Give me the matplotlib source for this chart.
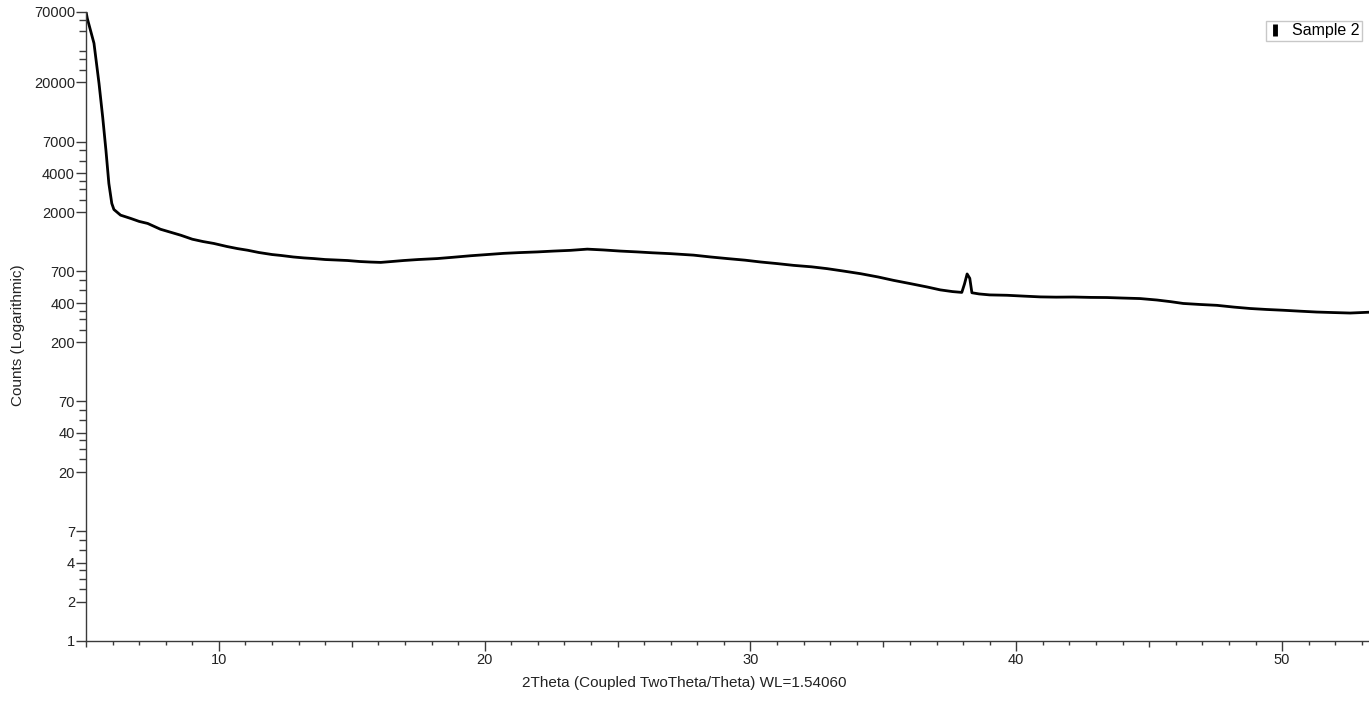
import matplotlib
matplotlib.use("Agg")
import matplotlib.pyplot as plt
from matplotlib.ticker import FixedLocator, NullFormatter
from matplotlib.lines import Line2D

plt.rcParams['font.family'] = ['Liberation Sans', 'DejaVu Sans']

# 2theta (deg) and counts
two_theta = [5.0, 5.05, 5.30, 5.49, 5.63, 5.75, 5.86, 5.97, 6.05, 6.3,
             6.69, 7.0, 7.32, 7.8, 8.2, 8.57, 9.0, 9.4, 9.81, 10.3,
             10.7, 11.08, 11.5, 12.0, 12.33, 12.8, 13.2, 13.57, 14.0, 14.4,
             14.84, 15.3, 15.71, 16.09, 16.5, 16.95, 17.5, 18.22, 18.8, 19.47,
             20.1, 20.71, 21.3, 21.98, 22.6, 23.23, 23.86, 24.47, 25.1, 25.74,
             26.3, 26.99, 27.86, 28.5, 29.12, 29.8, 30.38, 31.0, 31.62, 32.3,
             32.88, 33.5, 34.14, 34.8, 35.38, 36.0, 36.64, 37.14, 37.6, 37.95,
             38.05, 38.15, 38.25, 38.33, 38.6, 39.0, 39.65, 40.3, 40.9, 41.5,
             42.14, 42.8, 43.41, 44.0, 44.66, 45.29, 45.8, 46.28, 46.9, 47.55,
             48.2, 48.8, 49.4, 50.04, 50.7, 51.3, 51.9, 52.56, 53.3]
counts = [70000, 62000, 40000, 19600, 10700, 6000, 3330, 2340, 2100, 1900,
          1790, 1700, 1640, 1480, 1400, 1330, 1240, 1190, 1150, 1090,
          1050, 1020, 980, 945, 930, 905, 890, 880, 865, 858,
          850, 835, 827, 822, 835, 850, 865, 880, 900, 925,
          945, 965, 978, 990, 1005, 1018, 1040, 1025, 1005, 990,
          975, 960, 935, 905, 880, 855, 828, 805, 780, 760,
          736, 705, 673, 635, 598, 565, 532, 505, 490, 483,
          560, 670, 620, 480, 470, 462, 459, 452, 446, 444,
          445, 442, 441, 437, 433, 422, 410, 397, 390, 384,
          372, 363, 357, 352, 346, 341, 338, 335, 340]

y_major = [1, 2, 4, 7, 20, 40, 70, 200, 400, 700, 2000, 4000, 7000, 20000, 70000]
y_minor = [m * 10 ** k for k in range(5) for m in (2.5, 3, 3.5, 5, 6)]
x_major = [5, 10, 15, 20, 25, 30, 35, 40, 45, 50]
x_minor = list(range(5, 54))

fig = plt.figure(figsize=(13.69, 7.10), dpi=100)
ax = fig.add_axes([86 / 1369, 1 - 641 / 710, 1 - 86 / 1369, (641 - 11.7) / 710])

ax.plot(two_theta, counts, color='black', lw=2.0, label='Sample 2')

ax.set_yscale('log')
ax.set_xlim(5, 53.27)
ax.set_ylim(1, 70000)

ax.yaxis.set_major_locator(FixedLocator(y_major))
ax.yaxis.set_minor_locator(FixedLocator(y_minor))
ax.set_yticklabels([str(v) for v in y_major])
ax.yaxis.set_minor_formatter(NullFormatter())

ax.xaxis.set_major_locator(FixedLocator(x_major))
ax.xaxis.set_minor_locator(FixedLocator(x_minor))
ax.set_xticklabels([str(v) if v % 10 == 0 else '' for v in x_major])

gray = '#3a3a3a'
for side in ('top', 'right'):
    ax.spines[side].set_visible(False)
for side in ('left', 'bottom'):
    ax.spines[side].set_color(gray)
    ax.spines[side].set_linewidth(1.0)

ax.tick_params(axis='y', which='major', length=7.5, width=1, color=gray, labelsize=10.5, labelcolor='#222222', pad=0.5)
ax.tick_params(axis='y', which='minor', length=5, width=1, color=gray)
ax.tick_params(axis='x', which='major', length=4.5, width=1, color=gray, labelsize=10.5, labelcolor='#222222', pad=4)
ax.tick_params(axis='x', which='minor', length=3, width=1, color=gray)

# longer ticks at the tens
for v, t in zip(x_major, ax.xaxis.get_major_ticks()):
    t.tick1line.set_markersize(7.5 if v % 10 == 0 else 4.5)

ax.set_ylabel('Counts (Logarithmic)', fontsize=11, color='#222222')
ax.yaxis.set_label_coords((25 - 86) / 1283, 0.486)
ax.set_xlabel('2Theta (Coupled TwoTheta/Theta) WL=1.54060', fontsize=11, color='#222222')
ax.xaxis.set_label_coords((684.5 - 86) / 1283, -0.056)

handle = Line2D([], [], color='black', marker='|', linestyle='none', markersize=9, markeredgewidth=3.5)
leg = ax.legend([handle], ['Sample 2'], loc='upper right',
                bbox_to_anchor=(1362 / 1369, 1 - 21 / 710), bbox_transform=fig.transFigure,
                borderaxespad=0, fancybox=False, fontsize=11.5, handlelength=0.9,
                handletextpad=0.6, borderpad=0.15, framealpha=1)
leg.get_frame().set_edgecolor('#c8c8c8')
leg.get_frame().set_linewidth(1.0)

fig.savefig('out.png', dpi=100)
